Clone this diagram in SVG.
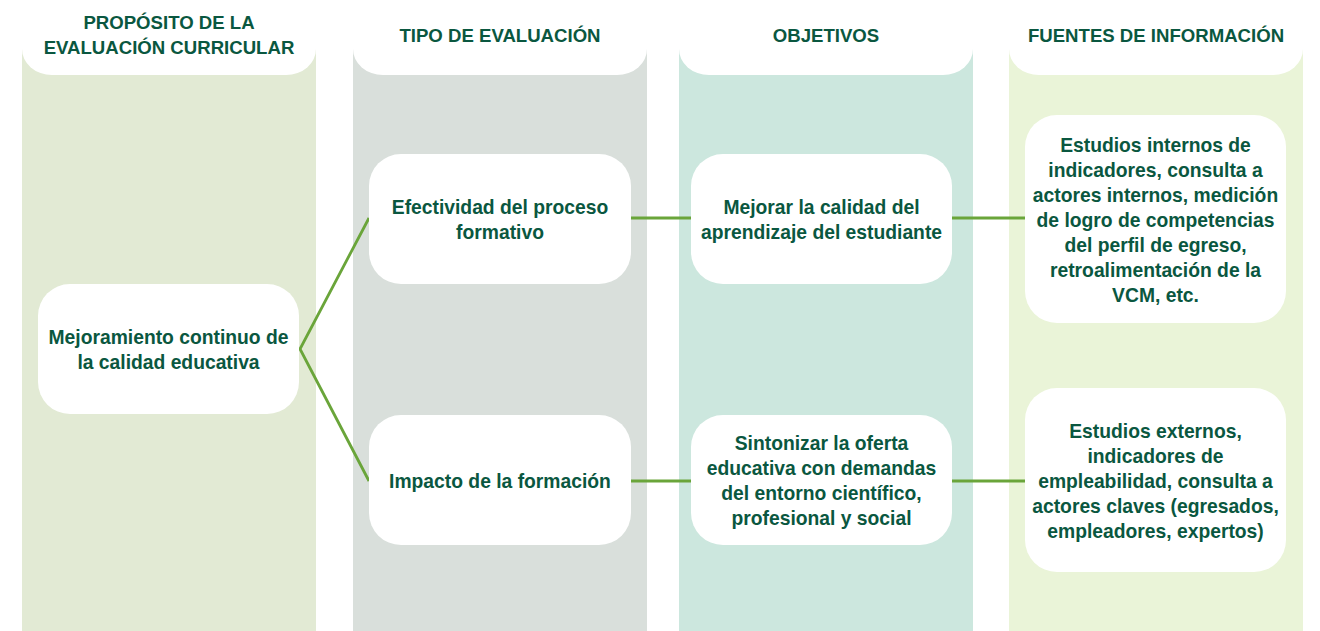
<svg xmlns="http://www.w3.org/2000/svg" width="1320" height="631" viewBox="0 0 1320 631">
<style>
  .hd { font-family: "Liberation Sans", Arial, sans-serif; font-weight: bold; font-size: 18.6px; fill: #0a5740; text-anchor: middle; }
  .tx { font-family: "Liberation Sans", Arial, sans-serif; font-weight: bold; font-size: 19.3px; fill: #0a5740; text-anchor: middle; }
  .box { fill: #ffffff; }
  .cap { fill: #ffffff; }
  .conn { stroke: #6aa53a; stroke-width: 2.8; fill: none; stroke-linecap: butt; stroke-linejoin: miter; }
</style>
<rect x="0" y="0" width="1320" height="631" fill="#ffffff"/>

<g id="col1">
  <rect x="22" y="49" width="294" height="582" fill="#e2ead4"/>
  <path class="cap" d="M22,49 A30,26 0 0 0 52,75 L286,75 A30,26 0 0 0 316,49 Z"/>
  <text class="hd" x="169" y="29">PROPÓSITO DE LA</text>
  <text class="hd" x="169" y="54">EVALUACIÓN CURRICULAR</text>
</g>
<g id="col2">
  <rect x="353" y="49" width="294" height="582" fill="#d9dfdb"/>
  <path class="cap" d="M353,49 A30,26 0 0 0 383,75 L617,75 A30,26 0 0 0 647,49 Z"/>
  <text class="hd" x="500" y="42">TIPO DE EVALUACIÓN</text>
</g>
<g id="col3">
  <rect x="679" y="49" width="294" height="582" fill="#cce7de"/>
  <path class="cap" d="M679,49 A30,26 0 0 0 709,75 L943,75 A30,26 0 0 0 973,49 Z"/>
  <text class="hd" x="826" y="42">OBJETIVOS</text>
</g>
<g id="col4">
  <rect x="1009" y="49" width="294" height="582" fill="#eaf4d8"/>
  <path class="cap" d="M1009,49 A30,26 0 0 0 1039,75 L1273,75 A30,26 0 0 0 1303,49 Z"/>
  <text class="hd" x="1156" y="42">FUENTES DE INFORMACIÓN</text>
</g>

<g id="connectors">
  <polyline class="conn" points="369,218 300,349 369,481"/>
  <line class="conn" x1="631" y1="218" x2="691" y2="218"/>
  <line class="conn" x1="952" y1="218" x2="1025" y2="218"/>
  <line class="conn" x1="631" y1="481" x2="691" y2="481"/>
  <line class="conn" x1="952" y1="481" x2="1025" y2="481"/>
</g>

<g id="n-mejoramiento">
  <rect class="box" x="38" y="284" width="261" height="130" rx="32" ry="32"/>
  <text class="tx" x="168.5" y="344">Mejoramiento continuo de</text>
  <text class="tx" x="168.5" y="369">la calidad educativa</text>
</g>
<g id="n-efectividad">
  <rect class="box" x="369" y="154" width="262" height="130" rx="32" ry="32"/>
  <text class="tx" x="500" y="214">Efectividad del proceso</text>
  <text class="tx" x="500" y="239">formativo</text>
</g>
<g id="n-impacto">
  <rect class="box" x="369" y="415" width="262" height="130" rx="32" ry="32"/>
  <text class="tx" x="500" y="487.5">Impacto de la formación</text>
</g>
<g id="n-mejorar">
  <rect class="box" x="691" y="154" width="261" height="130" rx="32" ry="32"/>
  <text class="tx" x="821.5" y="214">Mejorar la calidad del</text>
  <text class="tx" x="821.5" y="239">aprendizaje del estudiante</text>
</g>
<g id="n-sintonizar">
  <rect class="box" x="691" y="415" width="261" height="130" rx="32" ry="32"/>
  <text class="tx" x="821.5" y="450">Sintonizar la oferta</text>
  <text class="tx" x="821.5" y="475">educativa con demandas</text>
  <text class="tx" x="821.5" y="500">del entorno científico,</text>
  <text class="tx" x="821.5" y="525">profesional y social</text>
</g>
<g id="n-internos">
  <rect class="box" x="1025" y="115" width="261" height="208" rx="32" ry="32"/>
  <text class="tx" x="1155.5" y="151.5">Estudios internos de</text>
  <text class="tx" x="1155.5" y="176.5">indicadores, consulta a</text>
  <text class="tx" x="1155.5" y="201.5">actores internos, medición</text>
  <text class="tx" x="1155.5" y="226.5">de logro de competencias</text>
  <text class="tx" x="1155.5" y="251.5">del perfil de egreso,</text>
  <text class="tx" x="1155.5" y="276.5">retroalimentación de la</text>
  <text class="tx" x="1155.5" y="301.5">VCM, etc.</text>
</g>
<g id="n-externos">
  <rect class="box" x="1025" y="388" width="261" height="184" rx="32" ry="32"/>
  <text class="tx" x="1155.5" y="437.5">Estudios externos,</text>
  <text class="tx" x="1155.5" y="462.5">indicadores de</text>
  <text class="tx" x="1155.5" y="487.5">empleabilidad, consulta a</text>
  <text class="tx" x="1155.5" y="512.5">actores claves (egresados,</text>
  <text class="tx" x="1155.5" y="537.5">empleadores, expertos)</text>
</g>
</svg>
